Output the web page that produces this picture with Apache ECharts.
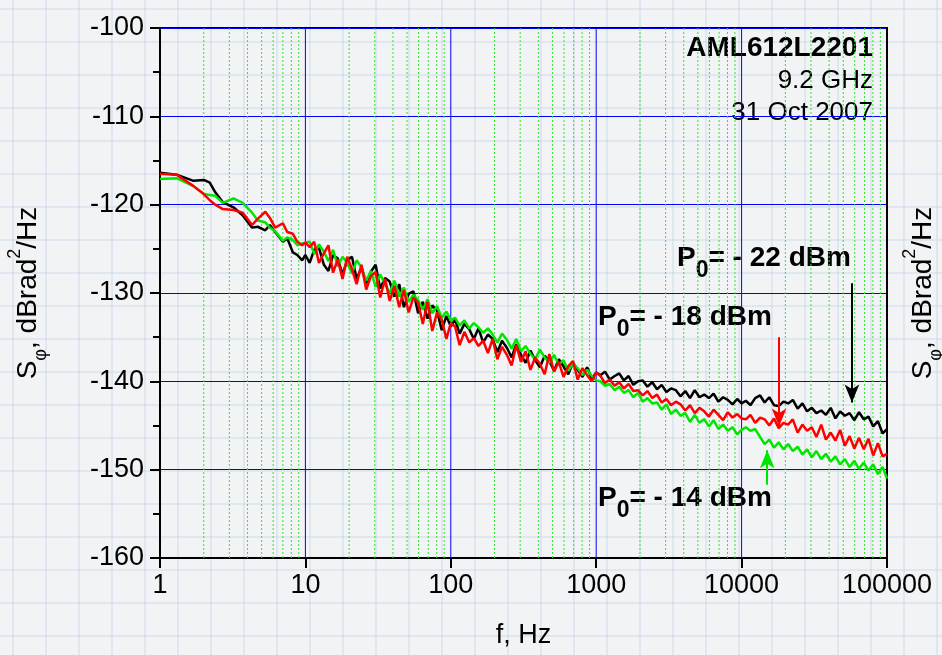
<!DOCTYPE html>
<html>
<head>
<meta charset="utf-8">
<script src="https://cdn.jsdelivr.net/npm/echarts@6/dist/echarts.min.js"></script>
<style>
  html, body { margin: 0; padding: 0; }
  body {
    width: 942px; height: 655px; overflow: hidden;
    background-color: #f2f3f4;
    background-image:
      linear-gradient(rgba(185, 210, 230, 0.35) 2px, transparent 2px),
      linear-gradient(90deg, rgba(185, 210, 230, 0.35) 2px, transparent 2px);
    background-size: 33px 33px;
    background-position: 12px 8px;
  }
  #chart { width: 942px; height: 655px; }
</style>
</head>
<body>
<div id="chart"></div>
<script>
// frequency grid, Hz
const freq = [
  1, 1.3, 1.7, 2, 2.2, 2.4, 2.7, 3.2, 3.7, 4.3, 4.7, 5.3, 5.7, 6.2, 7, 7.5, 8.2, 8.8, 9.5, 10,
  10.7, 11.5, 12.4, 13.4, 14.4, 15.5, 16.7, 18, 19.4, 20.9, 22.5, 24.3, 26.2, 28.2, 30.4, 32.7,
  35.3, 38, 41, 44.2, 47.6, 51.3, 55.3, 59.6, 64.2, 69.2, 74.6, 80.4, 86.6, 93.3, 100,
  107, 115, 124, 134, 144, 155, 167, 180, 194, 209, 225, 243, 262, 282, 304, 327,
  353, 380, 410, 442, 476, 513, 553, 596, 642, 692, 746, 804, 866, 933, 1000,
  1070, 1150, 1240, 1340, 1440, 1550, 1670, 1800, 1940, 2090, 2250, 2430, 2620, 2820, 3040, 3270,
  3530, 3800, 4100, 4420, 4760, 5130, 5530, 5960, 6420, 6920, 7460, 8040, 8660, 9330, 10000,
  10700, 11500, 12400, 13400, 14400, 15500, 16700, 18000, 19400, 20900, 22500, 24300, 26200, 28200, 30400, 32700,
  35300, 38000, 41000, 44200, 47600, 51300, 55300, 59600, 64200, 69200, 74600, 80400, 86600, 93300, 100000
];

// P0 = -22 dBm (black)
const p22 = [
  -116.4, -116.6, -117.3, -117.2, -117.5, -118.6, -119.7, -120.3, -121.2, -122.6, -122.5, -122.9, -122.3, -123.1, -124.2, -123.8, -125.4, -125.7, -126.3, -125.7,
  -126.6, -125.1, -124.9, -126.8, -127.5, -125.7, -126.1, -127.9, -126.3, -125.9, -128.4, -127.1, -128.9, -127.6, -126.8, -129.5,
  -128.3, -128.7, -130.4, -129.0, -131.6, -130.1, -129.8, -132.3, -131.0, -132.9, -131.4, -132.0, -134.2, -132.6, -133.8,
  -133.0, -134.6, -133.5, -134.1, -135.2, -134.0, -135.6, -134.7, -135.2, -136.7, -135.4, -136.2, -137.3, -135.8, -137.0, -137.9,
  -136.5, -137.6, -138.4, -137.1, -137.7, -138.8, -137.5, -138.3, -139.2, -137.9, -138.7, -139.5, -138.4, -139.7, -139.0,
  -139.3, -138.9, -139.8, -139.4, -139.1, -139.9, -139.4, -140.4, -140.0, -139.9, -140.6, -140.1, -140.9, -140.4, -141.2, -140.8,
  -141.0, -141.7, -141.1, -141.9, -141.0, -141.8, -141.5, -141.9, -141.4, -142.3, -141.8, -142.1, -142.6, -142.0, -142.5,
  -142.2, -142.7, -141.9, -141.6, -142.4, -141.8, -142.7, -142.8, -142.3, -142.5, -142.1, -143.1, -142.5, -143.4, -143.0, -143.6,
  -143.3, -143.8, -143.0, -144.2, -143.4, -143.9, -143.6, -144.4, -143.5, -144.3, -144.0, -145.1, -144.5, -145.9, -145.4
];

// P0 = -18 dBm (red)
const p18 = [
  -116.5, -116.6, -117.9, -118.8, -119.5, -120.0, -120.5, -120.6, -120.9, -122.3, -121.6, -120.8, -121.5, -122.6, -122.1, -123.1, -123.3, -124.2, -124.6, -124.3,
  -124.8, -124.2, -126.6, -125.5, -124.6, -127.7, -126.2, -128.4, -125.9, -127.3, -129.0, -126.8, -129.6, -128.1, -127.6, -130.5,
  -128.4, -130.9, -129.2, -131.6, -129.7, -132.2, -130.5, -131.1, -133.5, -131.0, -134.3, -132.2, -133.0, -135.2, -133.4,
  -133.8, -135.9, -134.4, -135.6, -135.1, -136.0, -135.4, -136.8, -135.2, -137.5, -136.1, -137.0, -138.2, -135.9, -137.8, -136.6,
  -138.7, -137.3, -138.0, -139.2, -136.9, -138.9, -137.8, -139.5, -138.3, -137.7, -139.8, -138.5, -139.3, -140.0, -139.0,
  -139.4, -140.2, -139.8, -140.5, -140.1, -140.8, -140.3, -141.1, -141.0, -141.6, -141.1, -141.9, -141.5, -142.4, -142.0, -142.7,
  -142.3, -142.6, -143.3, -142.7, -143.6, -143.0, -143.4, -144.0, -143.2, -143.8, -144.4, -143.5, -144.1, -143.7, -144.2,
  -144.3, -143.8, -144.7, -144.1, -144.3, -145.0, -144.2, -145.3, -144.7, -144.9, -144.3, -145.8, -144.9, -145.6, -145.2, -146.3,
  -144.9, -146.6, -145.8, -146.7, -145.5, -147.3, -146.2, -147.6, -146.4, -147.7, -146.5, -148.4, -147.0, -148.5, -148.2
];

// P0 = -14 dBm (green)
const p14 = [
  -117.1, -117.0, -117.9, -118.8, -118.9, -119.0, -119.8, -119.3, -119.8, -120.9, -121.8, -122.0, -122.6, -123.0, -124.1, -123.7, -124.0, -124.6, -124.4, -124.3,
  -124.2, -125.6, -124.5, -125.3, -126.4, -125.1, -127.0, -125.9, -126.6, -127.8, -126.3, -127.1, -128.6, -127.5, -129.3, -127.9,
  -129.0, -130.0, -128.6, -130.4, -129.4, -131.0, -130.2, -130.8, -131.9, -130.7, -132.3, -131.5, -132.8, -132.1, -133.1,
  -132.8, -133.7, -133.1, -134.0, -133.4, -133.9, -134.5, -134.0, -134.7, -135.6, -134.6, -135.3, -136.3, -135.2, -136.6, -136.0,
  -136.9, -137.5, -136.4, -137.3, -137.9, -137.0, -138.1, -137.6, -138.8, -138.0, -138.5, -139.3, -138.7, -139.4, -139.9,
  -140.0, -140.5, -140.3, -141.0, -140.6, -141.3, -141.0, -141.8, -141.3, -142.3, -141.9, -142.5, -142.4, -143.2, -142.6, -143.7,
  -143.2, -143.9, -143.6, -144.6, -143.8, -144.7, -144.3, -145.1, -144.4, -145.4, -144.9, -145.6, -145.2, -146.0, -145.5,
  -145.2, -145.6, -145.4, -146.3, -147.1, -146.6, -147.5, -146.9, -147.7, -147.1, -147.9, -147.4, -148.3, -147.7, -148.6, -147.9,
  -148.8, -148.2, -149.1, -148.5, -149.4, -148.8, -149.7, -149.0, -149.9, -149.2, -150.1, -149.4, -150.5, -149.7, -151.0
];

// grid positions on the frequency axis
const decades = [1, 10, 100, 1000, 10000];
const majorX = [10, 100, 1000, 10000];
const minorSteps = [2, 3, 4, 5, 6, 7, 8, 9];
const yRange = [-160, -100];

// arrows: [x, yStart, yEnd, colour]
const arrows = [
  [57400, -128.9, -142.4, '#000000'],
  [18100, -135.0, -145.1, '#ff0000'],
  [15000, -151.7, -147.8, '#00e600']
];

const FONT = '"Liberation Sans", Arial, sans-serif';
const GREEN_GRID = '#2ee62e';
const BLUE_GRID = '#0000ff';

const chartDom = document.getElementById('chart');
const myChart = echarts.init(chartDom);

// vertical grid lines drawn as short two-point line series
function vLine(x, color, type) {
  return {
    type: 'line',
    silent: true,
    symbol: 'none',
    z: 1,
    data: [[x, yRange[0]], [x, yRange[1]]],
    lineStyle: { color: color, type: type, width: 1 },
    tooltip: { show: false }
  };
}

let gridSeries = [];
for (let d of decades) {
  for (let s of minorSteps) {
    gridSeries.push(vLine(d * s, GREEN_GRID, [2, 2]));
  }
}
for (let x of majorX) {
  gridSeries.push(vLine(x, BLUE_GRID, 'solid'));
}

const nameRich = {
  n: { fontSize: 28, lineHeight: 44, fontFamily: FONT, color: '#000' },
  sub: { fontSize: 18, lineHeight: 18, verticalAlign: 'bottom', fontFamily: FONT, color: '#000' },
  sup: { fontSize: 18, lineHeight: 18, verticalAlign: 'top', fontFamily: FONT, color: '#000' }
};
const yName = '{n|S}{sub|φ}{n|, dBrad}{sup|2}{n|/Hz}';

function pRich(color) {
  return {
    p: { fontSize: 28, fontWeight: 'bold', lineHeight: 48, fontFamily: FONT, color: color },
    s: { fontSize: 23, fontWeight: 'bold', lineHeight: 23, verticalAlign: 'bottom', fontFamily: FONT, color: color }
  };
}

let option = {
  animation: false,
  textStyle: { fontFamily: FONT },
  grid: {
    left: 160, top: 28, right: 55, bottom: 97,
    outerBoundsMode: 'none',
    containLabel: false,
    show: true, borderColor: '#000', borderWidth: 2, backgroundColor: 'transparent'
  },
  xAxis: {
    type: 'log',
    logBase: 10,
    min: 1,
    max: 100000,
    axisLine: { show: true, onZero: false, lineStyle: { color: '#000', width: 2 } },
    axisTick: { show: true, inside: false, length: 10, lineStyle: { color: '#000', width: 2 } },
    axisLabel: {
      color: '#000', fontSize: 27, margin: 14, fontFamily: FONT,
      formatter: (v) => String(Math.round(v))
    },
    splitLine: { show: false },
    name: 'f, Hz',
    nameLocation: 'middle',
    nameGap: 64,
    nameTextStyle: { fontSize: 27, color: '#000', fontFamily: FONT }
  },
  yAxis: [
    {
      type: 'value',
      min: yRange[0],
      max: yRange[1],
      interval: 10,
      axisLine: { show: true, onZero: false, lineStyle: { color: '#000', width: 2 } },
      axisTick: { show: true, inside: false, length: 10, lineStyle: { color: '#000', width: 2 } },
      minorTick: { show: true, splitNumber: 2, length: 7, lineStyle: { color: '#000', width: 2 } },
      axisLabel: { color: '#000', fontSize: 27, margin: 16, fontFamily: FONT },
      splitLine: { show: true, lineStyle: { color: BLUE_GRID, width: 1 } },
      name: yName,
      nameLocation: 'middle',
      nameRotate: 90,
      nameGap: 110,
      nameTextStyle: { rich: nameRich }
    },
    {
      type: 'value',
      position: 'right',
      min: yRange[0],
      max: yRange[1],
      interval: 10,
      axisLine: { show: true, onZero: false, lineStyle: { color: '#000', width: 2 } },
      axisTick: { show: false },
      axisLabel: { show: false },
      splitLine: { show: false },
      name: yName,
      nameLocation: 'middle',
      nameRotate: 90,
      nameGap: 14,
      nameTextStyle: { rich: nameRich }
    }
  ],
  series: gridSeries.concat([
    {
      name: 'P0 = -22 dBm',
      type: 'line',
      showSymbol: false,
      symbol: 'none',
      z: 3,
      data: freq.map((f, i) => [f, p22[i]]),
      lineStyle: { color: '#000000', width: 2.5 }
    },
    {
      name: 'P0 = -14 dBm',
      type: 'line',
      showSymbol: false,
      symbol: 'none',
      z: 4,
      data: freq.map((f, i) => [f, p14[i]]),
      lineStyle: { color: '#00e600', width: 2.5 },
      markLine: {
        silent: true,
        z: 10,
        symbol: ['none', 'arrow'],
        symbolSize: [11, 18],
        label: { show: false },
        data: arrows.map((a) => [
          { coord: [a[0], a[1]], lineStyle: { color: a[3], width: 2, type: 'solid' }, itemStyle: { color: a[3] } },
          { coord: [a[0], a[2]] }
        ])
      }
    },
    {
      name: 'P0 = -18 dBm',
      type: 'line',
      showSymbol: false,
      symbol: 'none',
      z: 5,
      data: freq.map((f, i) => [f, p18[i]]),
      lineStyle: { color: '#ff0000', width: 2.5 }
    }
  ]),
  graphic: [
    { type: 'text', x: 873, y: 48, style: { text: 'AML612L2201', font: 'bold 28px ' + FONT, fill: '#000', align: 'right', verticalAlign: 'middle' } },
    { type: 'text', x: 873, y: 81, style: { text: '9.2 GHz', font: '26px ' + FONT, fill: '#000', align: 'right', verticalAlign: 'middle' } },
    { type: 'text', x: 873, y: 113, style: { text: '31 Oct 2007', font: '26px ' + FONT, fill: '#000', align: 'right', verticalAlign: 'middle' } },
    { type: 'text', x: 677, y: 258, style: { text: '{p|P}{s|0}{p|= - 22 dBm}', rich: pRich('#000000'), align: 'left', verticalAlign: 'middle' } },
    { type: 'text', x: 598, y: 317, style: { text: '{p|P}{s|0}{p|= - 18 dBm}', rich: pRich('#ff0000'), align: 'left', verticalAlign: 'middle' } },
    { type: 'text', x: 598, y: 498, style: { text: '{p|P}{s|0}{p|= - 14 dBm}', rich: pRich('#00e600'), align: 'left', verticalAlign: 'middle' } }
  ]
};

try {
  myChart.setOption(option);
} catch (error) {
  console.error('Error setting chart options:', error);
}
</script>
</body>
</html>
